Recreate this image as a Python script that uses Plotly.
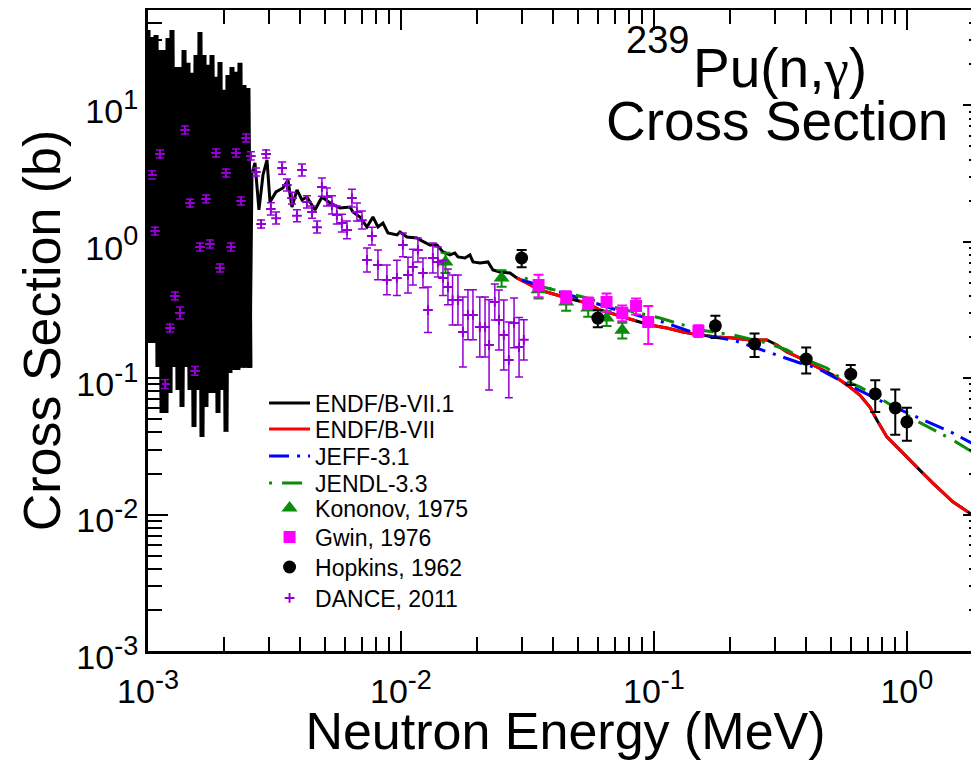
import plotly.graph_objects as go

# ---------------- data ----------------
# ENDF/B-VII.1, resolved-resonance region (peaks and valleys)
endf71_res_e = [1.000e-3, 1.018e-3, 1.037e-3, 1.056e-3, 1.076e-3, 1.095e-3, 1.115e-3, 1.136e-3, 1.157e-3, 1.178e-3,
                1.200e-3, 1.222e-3, 1.244e-3, 1.267e-3, 1.290e-3, 1.314e-3, 1.338e-3, 1.363e-3, 1.388e-3, 1.413e-3,
                1.439e-3, 1.466e-3, 1.493e-3, 1.520e-3, 1.548e-3, 1.576e-3, 1.605e-3, 1.635e-3, 1.665e-3, 1.695e-3,
                1.727e-3, 1.758e-3, 1.791e-3, 1.824e-3, 1.857e-3, 1.891e-3, 1.926e-3, 1.961e-3, 1.997e-3, 2.034e-3,
                2.071e-3, 2.109e-3, 2.148e-3, 2.187e-3, 2.228e-3, 2.268e-3, 2.310e-3, 2.352e-3, 2.396e-3, 2.440e-3,
                2.484e-3, 2.530e-3]
endf71_res_xs = [35.7, 0.181, 31.7, 0.181, 32.8, 0.121, 25.5, 0.0556, 25.5, 0.0556,
                 31.2, 0.0778, 35.7, 0.121, 19.1, 0.0818, 19.1, 0.0615, 25.5, 0.121,
                 20.5, 0.0818, 17.3, 0.0438, 23.4, 0.0818, 34.5, 0.0371, 23.4, 0.0615,
                 19.8, 0.0778, 23.4, 0.0778, 16.2, 0.0556, 20.8, 0.0818, 13.0, 0.0404,
                 16.7, 0.109, 19.1, 0.115, 17.6, 0.115, 20.5, 0.119, 14.1, 0.119,
                 13.4, 0.119]

# ENDF/B-VII.1 above the resolved resonances
endf71_e = [2.530e-3,
            2.577e-3, 2.648e-3, 2.746e-3, 2.848e-3, 2.954e-3, 3.036e-3, 3.206e-3, 3.416e-3, 3.576e-3, 3.708e-3,
            3.880e-3, 4.061e-3, 4.250e-3, 4.572e-3, 4.871e-3, 5.240e-3, 5.740e-3, 6.286e-3, 6.461e-3, 6.884e-3,
            7.337e-3, 7.749e-3, 8.111e-3, 8.489e-3, 8.885e-3, 9.643e-3, 9.908e-3, 1.056e-2, 1.157e-2, 1.189e-2,
            1.302e-2, 1.388e-2, 1.466e-2, 1.562e-2, 1.634e-2, 1.680e-2, 1.791e-2, 1.874e-2, 1.926e-2, 2.053e-2,
            2.208e-2, 2.310e-2, 2.462e-2, 2.697e-2, 2.873e-2, 3.148e-2, 3.543e-2, 4.530e-2, 5.435e-2, 6.117e-2,
            7.141e-2, 8.260e-2, 9.643e-2, 0.1126, 0.1302, 0.1520, 0.1774, 0.2053, 0.2395, 0.2796,
            0.3063, 0.3355, 0.3777, 0.4408, 0.5099, 0.5952, 0.6520, 0.7142, 0.7610, 0.8335,
            0.9382, 1.095, 1.267, 1.520, 1.727, 1.926, 2.0]
endf71_xs = [0.119,
             3.194, 3.782, 1.711, 3.088, 3.979, 1.958, 2.318, 2.480, 2.839, 1.799,
             2.398, 2.025, 2.130, 1.711, 2.130, 1.925, 1.769, 1.799, 1.654, 1.520,
             1.284, 1.520, 1.284, 1.373, 1.160, 1.122, 1.180, 1.084, 1.066, 1.031,
             0.9473, 0.9473, 0.8417, 0.8000, 0.8277, 0.7738, 0.7607, 0.8000, 0.7111, 0.6992,
             0.7111, 0.6214, 0.6007, 0.5906, 0.5430, 0.4988, 0.4431, 0.3873, 0.3558, 0.3162,
             0.2905, 0.2671, 0.2455, 0.2333, 0.2182, 0.2074, 0.2005, 0.1971, 0.1906, 0.1906,
             0.1751, 0.1556, 0.1406, 0.1208, 0.1056, 0.0862, 0.0753, 0.0615, 0.0494, 0.0371,
             0.0298, 0.0223, 0.0170, 0.0124, 0.0106, 0.00913, 0.0088]

# ENDF/B-VII (fast region)
endf7_e = [2.873e-2, 3.148e-2, 3.543e-2, 4.530e-2, 5.435e-2, 6.117e-2, 7.141e-2, 8.260e-2, 9.643e-2, 0.1126,
           0.1302, 0.1520, 0.1774, 0.2053, 0.2395, 0.2796, 0.3063, 0.3355, 0.3777, 0.4408,
           0.5099, 0.5952, 0.6520, 0.7142, 0.7610, 0.8335, 0.9382, 1.095, 1.267, 1.520,
           1.727, 1.926, 2.0]
endf7_xs = [0.5430, 0.4988, 0.4431, 0.3873, 0.3558, 0.3162, 0.2905, 0.2671, 0.2455, 0.2333,
            0.2182, 0.2074, 0.2005, 0.1971, 0.1906, 0.1906, 0.1751, 0.1556, 0.1406, 0.1208,
            0.1056, 0.0862, 0.0753, 0.0615, 0.0494, 0.0371, 0.0298, 0.0223, 0.0170, 0.0124,
            0.0106, 0.00913, 0.0088]

# JEFF-3.1
jeff_e = [0.03008, 0.04251, 0.05435, 0.07141, 0.1085, 0.1520, 0.2053, 0.2796, 0.3777, 0.4408,
          0.5585, 0.8037, 1.095, 1.520, 1.926, 2.0]
jeff_xs = [0.5248, 0.4285, 0.3744, 0.3162, 0.2582, 0.2074, 0.1906, 0.1556, 0.1292, 0.1188,
           0.0938, 0.0669, 0.0519, 0.0396, 0.0313, 0.0302]

# JENDL-3.3
jendl_e = [0.03091, 0.03641, 0.05435, 0.06884, 0.1056, 0.1520, 0.2053, 0.2796, 0.3355, 0.3777,
           0.4828, 0.5585, 0.6520, 0.8037, 1.095, 1.520, 1.926, 2.0]
jendl_xs = [0.5430, 0.4663, 0.3873, 0.3327, 0.2763, 0.2256, 0.2074, 0.1812, 0.1609, 0.1430,
            0.1188, 0.0970, 0.0862, 0.0692, 0.0486, 0.0352, 0.0269, 0.0262]

# Kononov, 1975
kon_e = [0.015, 0.025, 0.035, 0.045, 0.055, 0.065, 0.075]
kon_xs = [0.711, 0.543, 0.444, 0.362, 0.327, 0.276, 0.225]
kon_err = [0.12, 0.075, 0.06, 0.05, 0.045, 0.035, 0.03]

# Gwin, 1976
gwin_e = [0.035, 0.045, 0.055, 0.065, 0.075, 0.085, 0.095, 0.15]
gwin_xs = [0.482, 0.394, 0.356, 0.362, 0.301, 0.338, 0.258, 0.222]
gwin_err = [0.09, 0.04, 0.035, 0.055, 0.04, 0.045, 0.08, 0.022]

# Hopkins, 1962
hop_e = [0.030, 0.060, 0.175, 0.25, 0.40, 0.60, 0.75, 0.90, 1.0]
hop_xs = [0.760, 0.276, 0.242, 0.178, 0.138, 0.107, 0.0766, 0.0605, 0.0478]
hop_err = [0.11, 0.04, 0.045, 0.035, 0.03, 0.018, 0.02, 0.022, 0.013]

# DANCE, 2011
dance_e = [1.037e-3, 1.115e-3, 1.400e-3, 1.466e-3, 1.695e-3, 1.857e-3, 2.034e-3, 2.228e-3, 2.33e-3, 2.44e-3,
           1.066e-3, 1.605e-3, 1.758e-3, 2.13e-3, 2.55e-3, 2.67e-3, 2.93e-3, 2.80e-3, 3.06e-3, 3.21e-3,
           3.39e-3, 3.54e-3, 3.71e-3, 3.88e-3, 4.06e-3, 4.25e-3, 4.45e-3, 4.66e-3, 4.87e-3, 5.10e-3,
           5.34e-3, 5.58e-3, 5.84e-3, 6.12e-3, 6.40e-3, 6.70e-3, 7.01e-3, 7.68e-3, 1.018e-2, 1.926e-3,
           1.278e-3, 1.338e-3, 1.222e-3, 1.534e-3, 1.167e-3, 7.34e-3, 8.11e-3, 8.80e-3, 9.64e-3, 1.066e-2,
           1.115e-2, 1.167e-2, 1.222e-2, 1.279e-2, 1.337e-2, 1.40e-2, 1.466e-2, 1.534e-2, 1.60e-2, 1.68e-2,
           1.758e-2, 1.84e-2, 1.926e-2, 2.05e-2, 2.15e-2, 2.23e-2, 2.35e-2, 2.44e-2, 2.55e-2, 2.67e-2,
           2.80e-2, 2.93e-2, 3.06e-2]
dance_xs = [3.09, 4.40, 6.60, 1.92, 2.06, 4.48, 3.19, 4.48, 1.99, 5.77,
            1.20, 0.916, 0.964, 0.916, 4.26, 3.25, 4.40, 1.35, 1.74, 1.49,
            3.47, 2.61, 2.09, 1.55, 3.36, 1.96, 1.65, 1.28, 2.52, 2.13,
            1.86, 1.57, 1.37, 1.22, 2.09, 1.65, 1.44, 1.10, 0.948, 0.643,
            0.401, 0.301, 0.233, 0.113, 0.0906, 0.736, 0.676, 0.525, 0.543, 0.571,
            0.653, 0.871, 0.590, 0.316, 0.761, 0.711, 0.543, 0.466, 0.374, 0.374,
            0.218, 0.291, 0.291, 0.237, 0.237, 0.175, 0.362, 0.267, 0.207, 0.136,
            0.254, 0.169, 0.191]
dance_ep = [0.22, 0.31, 0.46, 0.13, 0.14, 0.31, 0.22, 0.31, 0.14, 0.40,
            0.08, 0.064, 0.067, 0.064, 0.30, 0.23, 0.31, 0.095, 0.19, 0.16,
            0.37, 0.28, 0.22, 0.17, 0.36, 0.21, 0.18, 0.14, 0.41, 0.35,
            0.31, 0.26, 0.22, 0.20, 0.34, 0.27, 0.24, 0.18, 0.21, 0.045,
            0.028, 0.032, 0.016, 0.009, 0.007, 0.165, 0.195, 0.15, 0.19, 0.20,
            0.23, 0.195, 0.17, 0.15, 0.22, 0.205, 0.19, 0.165, 0.196, 0.196,
            0.176, 0.153, 0.153, 0.156, 0.156, 0.20, 0.128, 0.176, 0.167, 0.122,
            0.133, 0.11, 0.077]
dance_em = [0.20, 0.29, 0.43, 0.12, 0.13, 0.29, 0.21, 0.29, 0.13, 0.38,
            0.08, 0.06, 0.063, 0.06, 0.28, 0.21, 0.29, 0.088, 0.17, 0.14,
            0.34, 0.25, 0.20, 0.15, 0.33, 0.19, 0.16, 0.12, 0.36, 0.30,
            0.26, 0.22, 0.19, 0.17, 0.29, 0.23, 0.20, 0.155, 0.17, 0.042,
            0.026, 0.029, 0.015, 0.008, 0.0065, 0.135, 0.15, 0.117, 0.14, 0.15,
            0.17, 0.16, 0.13, 0.10, 0.17, 0.16, 0.14, 0.12, 0.129, 0.129,
            0.097, 0.10, 0.10, 0.094, 0.094, 0.093, 0.095, 0.106, 0.092, 0.064,
            0.087, 0.067, 0.055]

x_tickvals = [1e-3, 1e-2, 1e-1, 1e0]
x_tickexp = ["-3", "-2", "-1", "0"]
y_tickvals = [1e-3, 1e-2, 1e-1, 1e0, 1e1]
y_tickexp = ["-3", "-2", "-1", "0", "1"]
x_minor = [m * d for d in (1e-3, 1e-2, 1e-1, 1e0) for m in range(2, 10)]
y_minor = [m * d for d in (1e-3, 1e-2, 1e-1, 1e0, 1e1) for m in range(2, 10)]

FONT = "Liberation Sans, Arial, Helvetica, sans-serif"
GREEN = "#0a8c0a"
PURPLE = "#9400d3"


def sup_label(e):
    return "10<sup><span style='font-size:27px'>" + e + "</span></sup>"


fig = go.Figure()
fig.add_trace(go.Scatter(x=endf71_res_e, y=endf71_res_xs, mode="lines", name="ENDF/B-VII.1",
                         legendgroup="endf71", showlegend=False, hoverinfo="skip",
                         line=dict(color="black", width=5, simplify=False)))
fig.add_trace(go.Scatter(x=endf71_e, y=endf71_xs, mode="lines", name="ENDF/B-VII.1", legend="legend",
                         legendgroup="endf71",
                         line=dict(color="black", width=3, simplify=False)))
fig.add_trace(go.Scatter(x=endf7_e, y=endf7_xs, mode="lines", name="ENDF/B-VII", legend="legend2",
                         line=dict(color="#ff0000", width=3, dash="60px,7px")))
fig.add_trace(go.Scatter(x=jeff_e, y=jeff_xs, mode="lines", name="JEFF-3.1", legend="legend3",
                         line=dict(color="#0000ff", width=3, dash="20px,8px,3px,8px")))
fig.add_trace(go.Scatter(x=jendl_e, y=jendl_xs, mode="lines", name="JENDL-3.3", legend="legend4",
                         line=dict(color=GREEN, width=3, dash="3px,10px,20px,8px")))
fig.add_trace(go.Scatter(x=kon_e, y=kon_xs, mode="markers", name="Kononov, 1975", legend="legend5",
                         marker=dict(symbol="triangle-up", size=14, color=GREEN),
                         error_y=dict(type="data", array=kon_err, color=GREEN, thickness=2, width=5)))
fig.add_trace(go.Scatter(x=gwin_e, y=gwin_xs, mode="markers", name="Gwin, 1976", legend="legend6",
                         marker=dict(symbol="square", size=12, color="#ff00ff"),
                         error_y=dict(type="data", array=gwin_err, color="#ff00ff", thickness=2, width=5)))
fig.add_trace(go.Scatter(x=hop_e, y=hop_xs, mode="markers", name="Hopkins, 1962", legend="legend7",
                         marker=dict(symbol="circle", size=13, color="black"),
                         error_y=dict(type="data", array=hop_err, color="black", thickness=2, width=5)))
fig.add_trace(go.Scatter(x=dance_e, y=dance_xs, mode="markers", name="DANCE, 2011", legend="legend8",
                         marker=dict(symbol="cross-thin", size=7, color=PURPLE,
                                     line=dict(color=PURPLE, width=2)),
                         error_y=dict(type="data", array=dance_ep, arrayminus=dance_em,
                                      color=PURPLE, thickness=1.5, width=4)))

axis_common = dict(
    type="log", showgrid=False, zeroline=False, ticks="inside", ticklen=20, tickwidth=2,
    tickcolor="black", linecolor="black", linewidth=3, automargin=False, showline=True, mirror="ticks",
    tickfont=dict(family=FONT, size=34, color="black"),
    minor=dict(ticks="inside", ticklen=14, tickwidth=2, tickcolor="black", showgrid=False),
)

fig.update_xaxes(**axis_common, range=[-3, 0.30103], tickvals=x_tickvals,
                 ticktext=[sup_label(e) for e in x_tickexp], ticklabelstandoff=8)
fig.update_xaxes(minor_tickvals=x_minor,
                 title=dict(text="Neutron Energy (MeV)", font=dict(family=FONT, size=52, color="black"),
                            standoff=2))
fig.update_yaxes(**axis_common, range=[-3, 1.699], tickvals=y_tickvals,
                 ticktext=[sup_label(e) for e in y_tickexp], ticklabelshift=6)
fig.update_yaxes(minor_tickvals=y_minor,
                 title=dict(text="Cross Section (b)", font=dict(family=FONT, size=52, color="black"),
                            standoff=0))

# title block (top right)
fig.add_annotation(xref="paper", yref="paper", x=0.570, y=0.9173, xanchor="left", yanchor="bottom",
                   showarrow=False, text="239",
                   font=dict(family=FONT, size=38, color="black"))
fig.add_annotation(xref="paper", yref="paper", x=0.6503, y=0.8574, xanchor="left", yanchor="bottom",
                   showarrow=False,
                   text="Pu(n,<span style='font-family:Liberation Serif'>γ</span>)",
                   font=dict(family=FONT, size=55, color="black"))
fig.add_annotation(xref="paper", yref="paper", x=0.5461, y=0.7747, xanchor="left", yanchor="bottom",
                   showarrow=False, text="Cross Section",
                   font=dict(family=FONT, size=55, color="black"))

legend_rows_y = [0.3869, 0.3463, 0.3042, 0.2621, 0.2231, 0.1778, 0.1310, 0.0827]
legend_style = dict(x=0.139, xanchor="left", yanchor="middle", bgcolor="rgba(0,0,0,0)",
                    borderwidth=0, itemwidth=41, font=dict(family=FONT, size=23, color="black"))
legends = {}
for i, yy in enumerate(legend_rows_y):
    key = "legend" if i == 0 else "legend%d" % (i + 1)
    legends[key] = dict(legend_style, y=yy)

fig.update_layout(
    width=975, height=752,
    margin=dict(l=140, r=0, t=2, b=109),
    paper_bgcolor="white", plot_bgcolor="white",
    font=dict(family=FONT, color="black"),
    showlegend=True,
    **legends,
)

fig.write_html("out.html")
